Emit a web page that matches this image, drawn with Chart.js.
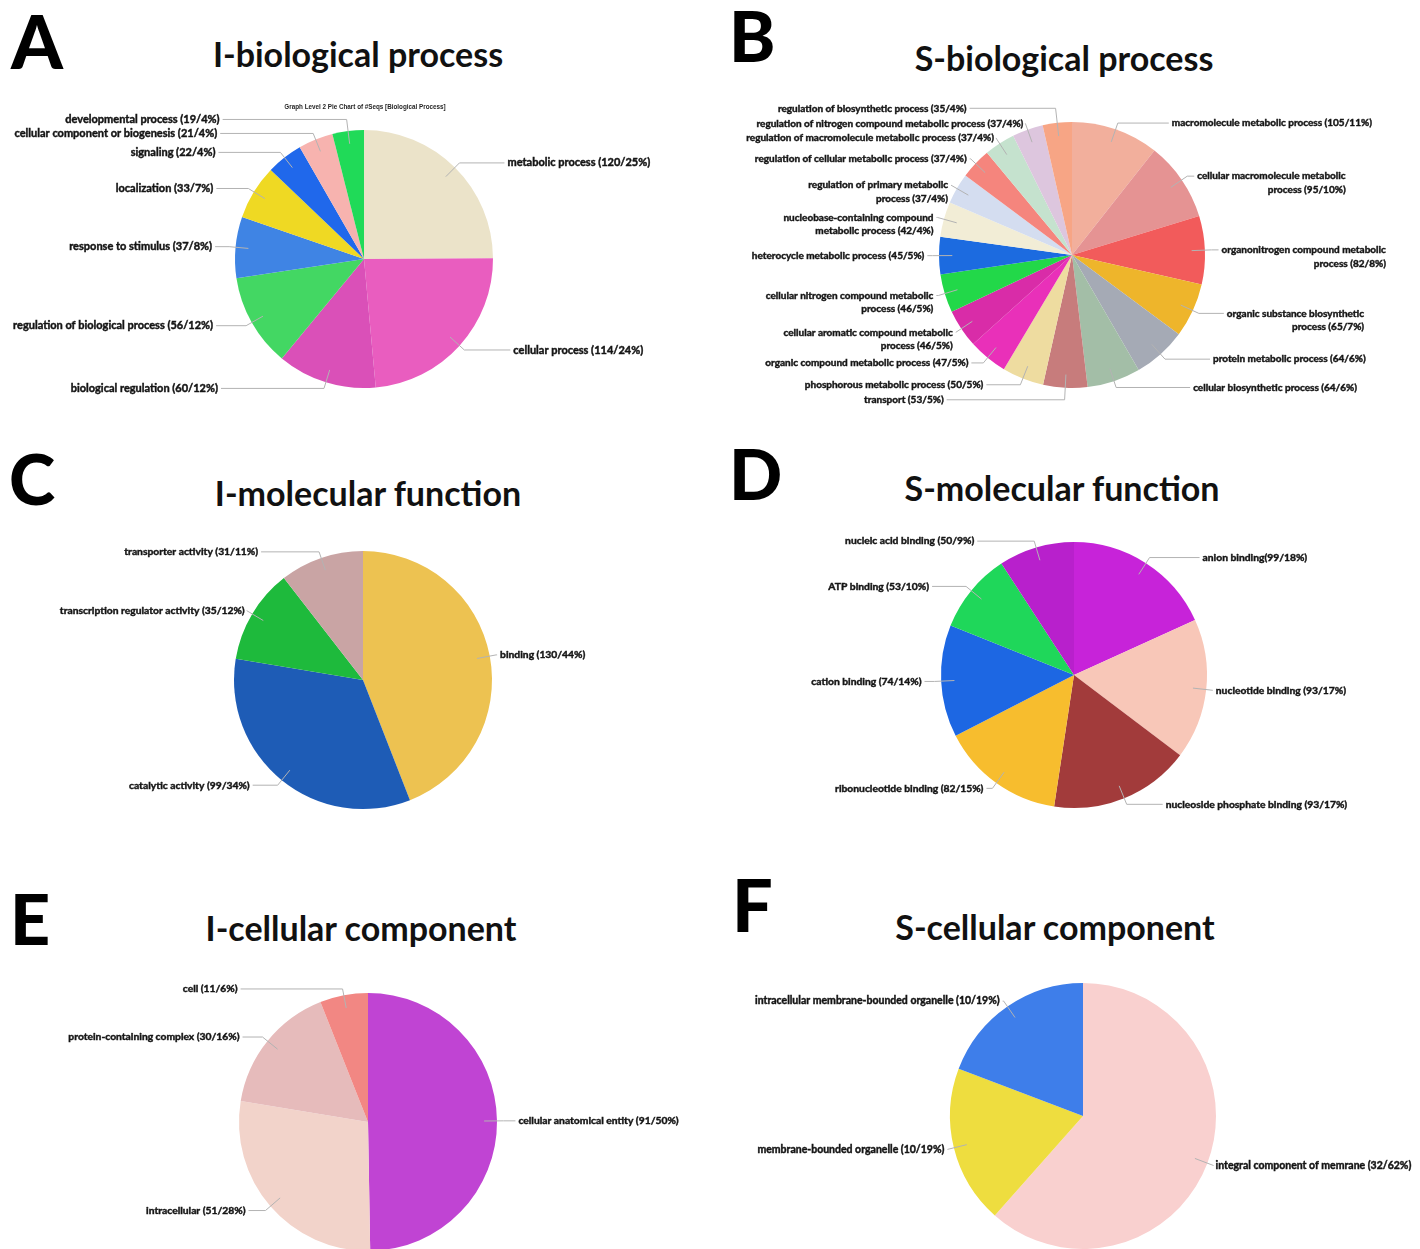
<!DOCTYPE html>
<html>
<head>
<meta charset="utf-8">
<script src="https://cdn.jsdelivr.net/npm/chart.js@4.4.1/dist/chart.umd.min.js"></script>
<style>
  html, body { margin: 0; padding: 0; background: #fff; }
  body { width: 1420px; height: 1249px; position: relative; overflow: hidden; font-family: Lato, "Open Sans", sans-serif; }
  canvas { position: absolute; }
  .letter { position: absolute; font-weight: 900; line-height: 1; color: #000; }
  .title { position: absolute; font-weight: 700; font-size: 34px; line-height: 1; color: #111; white-space: nowrap; transform: translateX(-50%); }
  .caption { position: absolute; font-family: "Liberation Sans", Arial, sans-serif; font-weight: 700; font-size: 6.3px; line-height: 1; color: #222; white-space: nowrap; transform: translateX(-50%); opacity: 0.99; will-change: opacity; }
</style>
</head>
<body>
<div class="letter" style="left:11px;top:4px;font-size:74px">A</div>
<div class="letter" style="left:729px;top:0px;font-size:70px">B</div>
<div class="letter" style="left:9px;top:443px;font-size:70px">C</div>
<div class="letter" style="left:729px;top:438px;font-size:70px">D</div>
<div class="letter" style="left:10px;top:883px;font-size:70px">E</div>
<div class="letter" style="left:732px;top:868px;font-size:72px">F</div>

<div class="title" style="left:358px;top:37px">I-biological process</div>
<div class="title" style="left:1064px;top:41px">S-biological process</div>
<div class="title" style="left:368px;top:476px">I-molecular function</div>
<div class="title" style="left:1062px;top:471px">S-molecular function</div>
<div class="title" style="left:361px;top:911px">I-cellular component</div>
<div class="title" style="left:1055px;top:910px">S-cellular component</div>
<div class="caption" style="left:365px;top:104px">Graph Level 2 Pie Chart of #Seqs [Biological Process]</div>

<canvas id="pieA"></canvas>
<canvas id="pieB"></canvas>
<canvas id="pieC"></canvas>
<canvas id="pieD"></canvas>
<canvas id="pieE"></canvas>
<canvas id="pieF"></canvas>

<script>
// ---------- A: I-biological process ----------
const bpICats = ['metabolic process', 'cellular process', 'biological regulation',
  'regulation of biological process', 'response to stimulus', 'localization',
  'signaling', 'cellular component or biogenesis', 'developmental process'];
const bpIVals = [120, 114, 60, 56, 37, 33, 22, 21, 19];
const bpIPct = [25, 24, 12, 12, 8, 7, 4, 4, 4];
const bpIColors = ['#EBE3C9', '#E95DBF', '#DA50B8', '#43D763', '#3F84E4',
  '#EFD923', '#2068EB', '#F7B3AF', '#20DA58'];

// ---------- B: S-biological process ----------
const bpSCats = ['macromolecule metabolic process', 'cellular macromolecule metabolic process',
  'organonitrogen compound metabolic process', 'organic substance biosynthetic process',
  'protein metabolic process', 'cellular biosynthetic process', 'transport',
  'phosphorous metabolic process', 'organic compound metabolic process',
  'cellular aromatic compound metabolic process', 'cellular nitrogen compound metabolic process',
  'heterocycle metabolic process', 'nucleobase-containing compound metabolic process',
  'regulation of primary metabolic process', 'regulation of cellular metabolic process',
  'regulation of macromolecule metabolic process', 'regulation of nitrogen compound metabolic process',
  'regulation of biosynthetic process'];
const bpSVals = [105, 95, 82, 65, 64, 64, 53, 50, 47, 46, 46, 45, 42, 37, 37, 37, 37, 35];
const bpSPct = [11, 10, 8, 7, 6, 6, 5, 5, 5, 5, 5, 5, 4, 4, 4, 4, 4, 4];
const bpSColors = ['#F2AF9C', '#E59393', '#F25B5B', '#EEB52B', '#A5AAB5', '#A3BEA7',
  '#C77C7C', '#EEDCA0', '#E930B9', '#D92CA8', '#22D849', '#1C6BE0', '#F2EDD6',
  '#D4DDF0', '#F5857D', '#C5E2CE', '#DDC6DE', '#F7A585'];

// ---------- C: I-molecular function ----------
const mfICats = ['binding', 'catalytic activity', 'transcription regulator activity', 'transporter activity'];
const mfIVals = [130, 99, 35, 31];
const mfIPct = [44, 34, 12, 11];
const mfIColors = ['#EDC251', '#1E5CB6', '#1EBA3C', '#C9A4A4'];

// ---------- D: S-molecular function ----------
const mfSCats = ['anion binding', 'nucleotide binding', 'nucleoside phosphate binding',
  'ribonucleotide binding', 'cation binding', 'ATP binding', 'nucleic acid binding'];
const mfSVals = [99, 93, 93, 82, 74, 53, 50];
const mfSPct = [18, 17, 17, 15, 14, 10, 9];
const mfSColors = ['#C723D9', '#F8C7B8', '#A23B3B', '#F7BD2E', '#1D67E3', '#1FD75A', '#B820CC'];

// ---------- E: I-cellular component ----------
const ccICats = ['cellular anatomical entity', 'intracellular', 'protein-containing complex', 'cell'];
const ccIVals = [91, 51, 30, 11];
const ccIPct = [50, 28, 16, 6];
const ccIColors = ['#C044D3', '#F2D3CA', '#E6BBBB', '#F28783'];

// ---------- F: S-cellular component ----------
const ccSCats = ['integral component of memrane', 'membrane-bounded organelle',
  'intracellular membrane-bounded organelle'];
const ccSVals = [32, 10, 10];
const ccSPct = [62, 19, 19];
const ccSColors = ['#F9D0CF', '#EEDD3F', '#3E7EEA'];

// Leader-line labels drawn outside each slice: a radial tick from inside the
// slice to an elbow just past the rim, then a horizontal run to the text.
function leaderLabels(spec) {
  return {
    id: 'leaderLabels',
    afterDatasetsDraw(chart) {
      const ctx = chart.ctx;
      const meta = chart.getDatasetMeta(0);
      const vals = chart.data.datasets[0].data;
      const names = chart.data.labels;
      ctx.save();
      ctx.font = '700 ' + spec.font + 'px Lato, "Open Sans", sans-serif';
      ctx.textBaseline = 'middle';
      meta.data.forEach((arc, i) => {
        const p = arc.getProps(['x', 'y', 'startAngle', 'endAngle', 'outerRadius'], true);
        const mid = (p.startAngle + p.endAngle) / 2;
        const c = Math.cos(mid), s = Math.sin(mid);
        const reach = (spec.reach && spec.reach[i]) || 1.05;
        const x0 = p.x + c * p.outerRadius * 0.9, y0 = p.y + s * p.outerRadius * 0.9;
        const x1 = p.x + c * p.outerRadius * reach, y1 = p.y + s * p.outerRadius * reach;
        const dir = c >= 0 ? 1 : -1;
        const tx = x1 + dir * spec.lead[i];
        const lineEnd = tx - dir * 3;
        ctx.strokeStyle = '#b3b3b3';
        ctx.lineWidth = 1;
        ctx.beginPath();
        ctx.moveTo(x0, y0);
        ctx.lineTo(x1, y1);
        if ((lineEnd - x1) * dir > 0) ctx.lineTo(lineEnd, y1);
        ctx.stroke();

        const joiner = (spec.tight && spec.tight.includes(i)) ? '' : ' ';
        const text = names[i] + joiner + '(' + vals[i] + '/' + spec.pct[i] + '%)';
        let lines = [text];
        const n = spec.wrap && spec.wrap[i];
        if (n) {
          const words = text.split(' ');
          lines = [words.slice(0, n).join(' '), words.slice(n).join(' ')];
        }
        const w = Math.max(...lines.map(l => ctx.measureText(l).width));
        const xr = dir > 0 ? tx + w : tx;
        ctx.textAlign = 'right';
        ctx.fillStyle = '#151515';
        ctx.strokeStyle = '#151515';
        ctx.lineWidth = 0.45;
        lines.forEach((l, k) => {
          ctx.fillText(l, xr, y1 + k * spec.lineH);
          ctx.strokeText(l, xr, y1 + k * spec.lineH);
        });
      });
      ctx.restore();
    }
  };
}

function drawPie(id, cats, vals, colors, pct, lay) {
  const cv = document.getElementById(id);
  const [bx, by, bw, bh] = lay.box;
  cv.width = bw; cv.height = bh;
  cv.style.left = bx + 'px'; cv.style.top = by + 'px';
  cv.style.width = bw + 'px'; cv.style.height = bh + 'px';
  const padding = {
    left: lay.cx - lay.r - bx,
    top: lay.cy - lay.r - by,
    right: bx + bw - (lay.cx + lay.r),
    bottom: by + bh - (lay.cy + lay.r)
  };
  return new Chart(cv, {
    type: 'pie',
    data: {
      labels: cats,
      datasets: [{ data: vals, backgroundColor: colors, borderWidth: 0, hoverOffset: 0 }]
    },
    options: {
      responsive: false,
      animation: false,
      events: [],
      layout: { padding },
      plugins: { legend: { display: false }, tooltip: { enabled: false } }
    },
    plugins: [leaderLabels(Object.assign({ pct }, lay))]
  });
}

// Placement of each pie (page pixels) and its label runs
drawPie('pieA', bpICats, bpIVals, bpIColors, bpIPct, {
  box: [0, 95, 710, 310], cx: 364, cy: 259, r: 129, font: 11, lineH: 13,
  lead: [48, 49, 106, 33, 17, 35, 65, 96, 127], reach: { 8: 1.09 }
});
drawPie('pieB', bpSCats, bpSVals, bpSColors, bpSPct, {
  box: [710, 95, 710, 320], cx: 1072, cy: 255, r: 133, font: 10, lineH: 13.5,
  lead: [54, 10, 10, 28, 48, 77, 121, 37, 15, 3, 5, 8, 4, 3, 4, 2, 2, 89],
  reach: { 6: 1.09, 17: 1.11 },
  wrap: { 1: 3, 2: 3, 3: 3, 9: 4, 10: 4, 12: 2, 13: 4 }
});
drawPie('pieC', mfICats, mfIVals, mfIColors, mfIPct, {
  box: [0, 530, 710, 290], cx: 363, cy: 680, r: 129, font: 10.3, lineH: 13,
  lead: [4, 28, 2, 61]
});
drawPie('pieD', mfSCats, mfSVals, mfSColors, mfSPct, {
  box: [710, 525, 710, 295], cx: 1074, cy: 675, r: 133, font: 10.3, lineH: 13,
  lead: [53, 3, 39, 9, 13, 37, 60], tight: [0]
});
drawPie('pieE', ccICats, ccIVals, ccIColors, ccIPct, {
  box: [0, 975, 710, 290], cx: 368, cy: 1122, r: 129, font: 10.3, lineH: 13,
  lead: [15, 20, 23, 105]
});
drawPie('pieF', ccSCats, ccSVals, ccSColors, ccSPct, {
  box: [710, 970, 710, 295], cx: 1083, cy: 1116, r: 133, font: 10.5, lineH: 13,
  lead: [2, 3, 4]
});
</script>
</body>
</html>
